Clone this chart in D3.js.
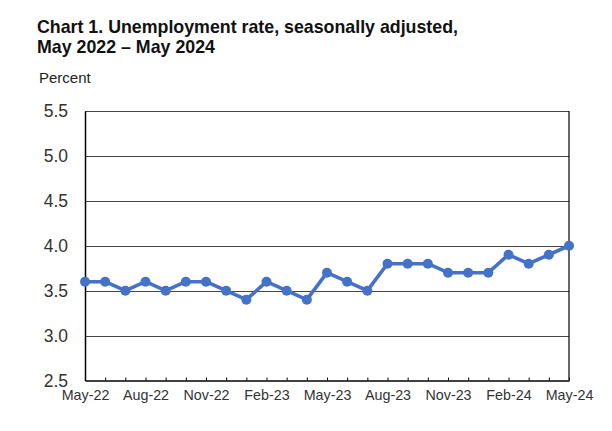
<!DOCTYPE html>
<html><head><meta charset="utf-8">
<script src="https://cdn.jsdelivr.net/npm/d3@7"></script>
<style>body{margin:0;background:#fff;} svg{display:block;font-family:"Liberation Sans",Arial,sans-serif;}</style>
</head><body>
<svg id="c" width="612" height="431"></svg>
<script>
const months = ["May-22","Jun-22","Jul-22","Aug-22","Sep-22","Oct-22","Nov-22","Dec-22","Jan-23","Feb-23","Mar-23","Apr-23","May-23","Jun-23","Jul-23","Aug-23","Sep-23","Oct-23","Nov-23","Dec-23","Jan-24","Feb-24","Mar-24","Apr-24","May-24"];
const rates = [3.6,3.6,3.5,3.6,3.5,3.6,3.6,3.5,3.4,3.6,3.5,3.4,3.7,3.6,3.5,3.8,3.8,3.8,3.7,3.7,3.7,3.9,3.8,3.9,4.0];
const yTicks = [2.5,3.0,3.5,4.0,4.5,5.0,5.5];
const xLabels = ["May-22","Aug-22","Nov-22","Feb-23","May-23","Aug-23","Nov-23","Feb-24","May-24"];

const svg = d3.select("#c");
const L = 85, R = 569, T = 111, B = 380.5;
const x = d3.scalePoint().domain(months).range([L, R]);
const y = d3.scaleLinear().domain([2.5, 5.5]).range([B, T]);

// title
const title = svg.append("text").attr("font-weight","bold").attr("font-size",17.8).attr("fill","#111");
title.append("tspan").attr("x",37).attr("y",32.5).text("Chart 1. Unemployment rate, seasonally adjusted,");
title.append("tspan").attr("x",37).attr("y",52.5).text("May 2022 \u2013 May 2024");
svg.append("text").attr("x",39).attr("y",82.5).attr("font-size",15).attr("fill","#222").text("Percent");

// gridlines
svg.append("g").selectAll("line").data(yTicks.filter(d=>d>2.5)).join("line")
  .attr("x1",L).attr("x2",R).attr("y1",d=>Math.round(y(d))+0.5).attr("y2",d=>Math.round(y(d))+0.5)
  .attr("stroke","#444").attr("stroke-width",1);

// y axis
const yAxis = d3.axisLeft(y).tickValues(yTicks).tickFormat(d3.format(".1f")).tickSize(0).tickPadding(17);
const gy = svg.append("g").attr("transform",`translate(${L},0)`).call(yAxis);
gy.select(".domain").attr("stroke","#000").attr("stroke-width",1.5);
gy.selectAll("text").attr("font-size",17.5).attr("fill","#333").attr("font-family","Liberation Sans, Arial, sans-serif");

// right border
svg.append("line").attr("x1",R).attr("x2",R).attr("y1",T).attr("y2",B).attr("stroke","#000").attr("stroke-width",1.2);

// x axis
const xAxis = d3.axisBottom(x).tickSizeInner(-3).tickSizeOuter(0).tickPadding(9)
  .tickFormat(d => xLabels.includes(d) ? d : "");
const gx = svg.append("g").attr("transform",`translate(0,${B})`).call(xAxis);
gx.select(".domain").attr("stroke","#000").attr("stroke-width",1.5);
gx.selectAll(".tick line").attr("stroke","#000");
gx.selectAll("text").attr("font-size",14.3).attr("fill","#333").attr("font-family","Liberation Sans, Arial, sans-serif");

// line
const line = d3.line().x((d,i)=>x(months[i])).y(d=>y(d));
svg.append("path").datum(rates).attr("d",line).attr("fill","none")
  .attr("stroke","#4472C8").attr("stroke-width",3.6).attr("stroke-linejoin","round");
svg.append("g").selectAll("circle").data(rates).join("circle")
  .attr("cx",(d,i)=>x(months[i])).attr("cy",d=>y(d)).attr("r",5).attr("fill","#4472C8");
</script>
</body></html>
